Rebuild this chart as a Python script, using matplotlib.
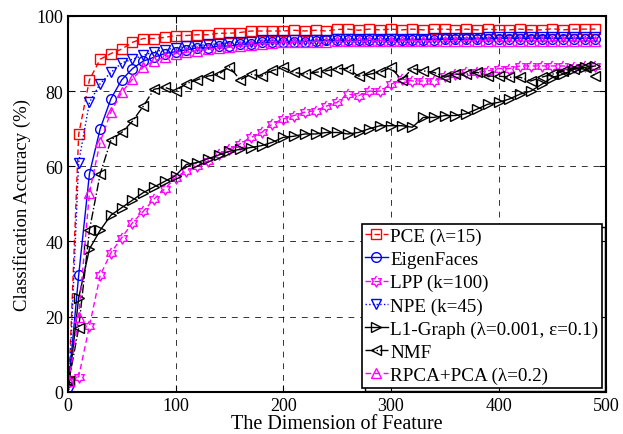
import matplotlib
matplotlib.use('Agg')
import matplotlib.pyplot as plt
from matplotlib.patches import Rectangle
from matplotlib.transforms import IdentityTransform
import numpy as np

plt.rcParams['font.family'] = ['Liberation Serif', 'DejaVu Serif']
plt.rcParams['font.size'] = 12

# feature dimensions
dims = [1, 10, 20, 30, 40, 50, 60, 70, 80, 90,
        100, 110, 120, 130, 140, 150, 160, 170, 180, 190,
        200, 210, 220, 230, 240, 250, 260, 270, 280, 290,
        300, 310, 320, 330, 340, 350, 360, 370, 380, 390,
        400, 410, 420, 430, 440, 450, 460, 470, 480, 490]

pce = [3, 68.5, 83, 88.5, 90, 91.2, 93, 94, 94, 94.3,
       94.8, 94.8, 95, 95, 95.4, 95.4, 95.6, 96, 96, 96,
       96, 96.2, 96, 96.2, 96, 96.4, 96.5, 96.2, 96.5, 96.3,
       96.5, 96.3, 96.5, 96.3, 96.5, 96.5, 96.3, 96.5, 96.3, 96.5,
       96.3, 96.3, 96.5, 96.3, 96.3, 96.6, 96.3, 96.5, 96.5, 96.5]

eigen = [3, 31, 58, 70, 78, 83, 86, 88, 89, 90,
         90.5, 91, 91.5, 91.5, 92, 92, 92.5, 92.5, 93, 93,
         93, 93, 93.2, 93.3, 93.5, 93.5, 93.5, 93.5, 93.5, 93.5,
         93.5, 93.6, 93.6, 93.7, 93.7, 93.8, 93.8, 93.8, 93.9, 93.9,
         94, 94, 94, 94, 94, 94, 94, 94, 94, 94]

lpp = [3, 4, 17.5, 31, 37, 41, 45, 48, 51.3, 54,
       57, 58.8, 60, 61.4, 63.3, 64.6, 66, 67.7, 69, 71.3,
       72.6, 73.5, 74.4, 74.8, 76, 77, 79.2, 78.8, 80, 80,
       81.8, 83.2, 82.7, 82.7, 82.7, 84, 84.5, 85, 85, 85.4,
       86, 86, 86.7, 86.7, 86.7, 86.7, 86.7, 86.3, 86.7, 86.7]

npe = [0.5, 61, 77, 82, 85, 87.5, 88.5, 89.5, 90.5, 91,
       91.5, 92, 92, 92.5, 92.5, 93, 93, 93, 93.5, 93.5,
       93.5, 93.6, 93.6, 93.7, 93.7, 93.8, 93.8, 93.8, 93.9, 93.9,
       94, 94, 94, 94, 94.1, 94.1, 94.2, 94.2, 94.2, 94.3,
       94.3, 94.3, 94.4, 94.4, 94.4, 94.5, 94.5, 94.5, 94.5, 94.5]

l1graph = [2, 25, 38, 43, 47, 49, 51, 53, 54.5, 56,
           57.5, 60.5, 61, 62, 63, 64, 64.5, 65, 65.5, 66.4,
           67.7, 68, 68.6, 68.6, 69, 69, 68.6, 69, 70, 70.8,
           70.8, 70.8, 70.4, 73, 73, 73.5, 73.5, 74, 75.2, 76.5,
           77, 77.9, 79.2, 80, 81.8, 83.6, 84.5, 85.8, 86.3, 86.7]

nmf = [3, 17, 43, 58, 67, 69, 72, 76, 80.5, 81,
       80, 82, 83, 84, 84.5, 86.5, 83, 84.5, 84, 85.5,
       86.3, 85, 84.5, 85, 85.4, 86, 86, 84, 84.5, 85,
       86.3, 83, 86, 85.4, 85, 83.7, 84.5, 84.5, 85, 84,
       84, 83.7, 83.7, 82.7, 83.7, 84.5, 85.4, 86, 86.3, 84]

rpca = [3, 20, 53, 66.5, 74.5, 79.7, 83.2, 86.4, 88, 89,
        90, 90.3, 90.8, 91.2, 91.5, 91.7, 92, 92.3, 92.5, 92.7,
        93, 93, 93.1, 93.2, 93.2, 93.3, 93.3, 93.3, 93.4, 93.4,
        93.4, 93.4, 93.4, 93.4, 93.4, 93.4, 93.4, 93.4, 93.4, 93.4,
        93.4, 93.4, 93.4, 93.4, 93.4, 93.4, 93.4, 93.4, 93.4, 93.4]

# six-pointed star outline (MATLAB hexagram)
ang = np.pi / 2 + np.arange(12) * np.pi / 6
rad = np.where(np.arange(12) % 2 == 0, 1.0, 0.58)
hexagram = list(zip(rad * np.cos(ang), rad * np.sin(ang)))

series = [
    (pce, 'PCE (λ=15)', 'red', 's', (0, (4, 2.5))),
    (eigen, 'EigenFaces', 'blue', 'o', '-'),
    (lpp, 'LPP (k=100)', 'magenta', hexagram, (0, (4, 2.5))),
    (npe, 'NPE (k=45)', 'blue', 'v', ':'),
    (l1graph, 'L1-Graph (λ=0.001, ε=0.1)', 'black', '>', '-'),
    (nmf, 'NMF', 'black', '<', '-.'),
    (rpca, 'RPCA+PCA (λ=0.2)', 'magenta', '^', (0, (4, 2.5))),
]

fig = plt.figure(figsize=(6.23, 4.35), dpi=100)
ax = fig.add_axes([0.109, 0.097, 0.864, 0.864])

for vals, label, color, marker, ls in series:
    ms = 8 if marker is hexagram else 7
    ax.plot(dims, vals, linestyle=ls, color=color, marker=marker,
            markersize=ms, markerfacecolor='none', markeredgecolor=color,
            markeredgewidth=1.0, linewidth=1.0, label=label)

ax.set_xlim(0, 500)
ax.set_ylim(0, 100)
ax.set_xticks([0, 100, 200, 300, 400, 500])
ax.set_yticks([0, 20, 40, 60, 80, 100])
ax.tick_params(direction='in', top=True, right=True, length=5, labelsize=13)
ax.grid(True, color='black', linestyle=(0, (6, 6)), linewidth=0.7, alpha=0.8)
for sp in ax.spines.values():
    sp.set_linewidth(1.5)

ax.set_xlabel('The Dimension of Feature', fontsize=14.5, labelpad=0)
ax.set_ylabel('Classification Accuracy (%)', fontsize=13.5, labelpad=4)

leg = ax.legend(loc='lower right', fontsize=13.8, handlelength=1.15,
                handletextpad=0.15, borderpad=0.2, labelspacing=0.3,
                borderaxespad=0.2, fancybox=False, framealpha=1)
leg.get_frame().set_edgecolor('black')
leg.get_frame().set_linewidth(1.2)

# offset outline behind the legend box (double-edge look)
fig.canvas.draw()
bb = leg.get_window_extent()
ax.add_patch(Rectangle((bb.x0 + 3, bb.y0 - 3), bb.width, bb.height,
                       transform=IdentityTransform(), fill=False,
                       edgecolor='black', linewidth=1.0, clip_on=False,
                       zorder=4.9))

fig.savefig('out.png', dpi=100)
